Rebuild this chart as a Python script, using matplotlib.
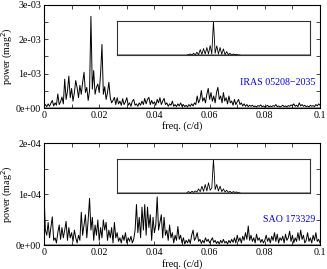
import numpy as np
import matplotlib.pyplot as plt
from matplotlib.ticker import MultipleLocator, FuncFormatter

plt.rcParams['font.family'] = ['Liberation Serif', 'DejaVu Serif']
plt.rcParams['font.size'] = 7.2

# frequency grid step (c/d)
FREQ_STEP = 0.0005

# IRAS 05208-2035 periodogram, power in 1e-3 mag^2
iras_power = [
    0.05, 0.10, 0.04, 0.12, 0.05, 0.14, 0.22, 0.06, 0.15, 0.08,
    0.41, 0.10, 0.18, 0.32, 0.12, 0.84, 0.25, 0.50, 0.93, 0.30,
    0.57, 0.20, 0.45, 0.80, 0.59, 0.30, 0.66, 0.40, 0.75, 1.04,
    0.45, 0.60, 0.22, 0.50, 2.67, 0.55, 1.09, 0.40, 0.60, 0.70,
    0.45, 1.00, 1.85, 0.40, 0.62, 0.25, 0.45, 0.75, 0.30, 0.15,
    0.22, 0.31, 0.10, 0.30, 0.12, 0.20, 0.08, 0.27, 0.10, 0.18,
    0.30, 0.08, 0.15, 0.05, 0.20, 0.25, 0.08, 0.12, 0.05, 0.15,
    0.08, 0.20, 0.10, 0.28, 0.12, 0.25, 0.31, 0.10, 0.22, 0.12,
    0.18, 0.08, 0.25, 0.15, 0.30, 0.10, 0.20, 0.28, 0.10, 0.15,
    0.05, 0.12, 0.08, 0.20, 0.05, 0.10, 0.04, 0.12, 0.06, 0.15,
    0.05, 0.10, 0.04, 0.08, 0.03, 0.10, 0.05, 0.12, 0.06, 0.15,
    0.10, 0.35, 0.15, 0.25, 0.51, 0.20, 0.30, 0.15, 0.40, 0.57,
    0.25, 0.45, 0.20, 0.35, 0.15, 0.45, 0.60, 0.25, 0.35, 0.15,
    0.45, 0.20, 0.30, 0.12, 0.35, 0.15, 0.20, 0.08, 0.25, 0.10,
    0.18, 0.25, 0.10, 0.15, 0.06, 0.12, 0.05, 0.10, 0.04, 0.08,
    0.05, 0.08, 0.04, 0.06, 0.03, 0.07, 0.05, 0.09, 0.04, 0.06,
    0.03, 0.05, 0.08, 0.03, 0.06, 0.04, 0.07, 0.05, 0.10, 0.04,
    0.06, 0.03, 0.05, 0.08, 0.04, 0.06, 0.03, 0.07, 0.05, 0.09,
    0.06, 0.12, 0.05, 0.08, 0.04, 0.15, 0.06, 0.10, 0.05, 0.08,
    0.04, 0.06, 0.03, 0.08, 0.05, 0.07, 0.04, 0.10, 0.06, 0.12,
    0.08,
]

# SAO 173329 periodogram, power in 1e-4 mag^2
sao_power = [
    1.00, 0.30, 0.20, 0.45, 0.15, 0.35, 0.56, 0.10, 0.15, 0.05,
    0.25, 0.40, 0.12, 0.35, 0.15, 0.30, 0.47, 0.10, 0.35, 0.15,
    0.25, 0.08, 0.30, 0.15, 0.05, 0.20, 0.10, 0.65, 0.20, 0.40,
    0.60, 0.15, 0.50, 0.92, 0.30, 0.55, 0.10, 0.40, 0.20, 0.50,
    0.10, 0.35, 0.15, 0.50, 0.30, 0.45, 0.10, 0.30, 0.15, 0.35,
    0.05, 0.45, 0.15, 0.25, 0.08, 0.15, 0.05, 0.20, 0.10, 0.25,
    0.05, 0.15, 0.08, 0.18, 0.05, 0.12, 0.30, 0.80, 0.25, 0.55,
    0.15, 0.75, 0.30, 0.80, 0.20, 0.75, 0.35, 0.60, 0.10, 0.55,
    0.25, 0.40, 0.95, 0.30, 0.45, 0.60, 0.15, 0.55, 0.20, 0.30,
    0.10, 0.40, 0.15, 0.25, 0.05, 0.20, 0.10, 0.37, 0.12, 0.20,
    0.05, 0.15, 0.03, 0.10, 0.05, 0.12, 0.04, 0.20, 0.30, 0.10,
    0.15, 0.25, 0.08, 0.12, 0.04, 0.10, 0.05, 0.15, 0.08, 0.12,
    0.05, 0.10, 0.15, 0.06, 0.10, 0.04, 0.08, 0.03, 0.10, 0.05,
    0.12, 0.05, 0.08, 0.03, 0.10, 0.05, 0.12, 0.06, 0.15, 0.05,
    0.20, 0.08, 0.15, 0.05, 0.18, 0.10, 0.25, 0.12, 0.38, 0.10,
    0.20, 0.08, 0.15, 0.05, 0.22, 0.10, 0.15, 0.06, 0.12, 0.05,
    0.10, 0.20, 0.08, 0.15, 0.05, 0.18, 0.10, 0.25, 0.08, 0.22,
    0.05, 0.15, 0.10, 0.18, 0.05, 0.22, 0.10, 0.15, 0.28, 0.08,
    0.20, 0.05, 0.15, 0.08, 0.25, 0.10, 0.30, 0.12, 0.20, 0.05,
    0.10, 0.25, 0.08, 0.15, 0.05, 0.20, 0.10, 0.25, 0.08, 0.12,
    0.05,
]

# spectral windows (relative height), offsets in units of 0.0006 c/d
WIN_STEP = 0.0006
win_offsets = list(range(-16, 17))
iras_window = [
    0.00, 0.01, 0.03, 0.00, 0.05, 0.01, 0.08, 0.01, 0.16, 0.02, 0.19,
    0.03, 0.22, 0.03, 0.28, 0.03, 1.00, 0.05, 0.27, 0.03, 0.22, 0.02,
    0.18, 0.01, 0.10, 0.01, 0.05, 0.00, 0.03, 0.01, 0.02, 0.00, 0.00,
]
sao_window = [
    0.02, 0.04, 0.01, 0.05, 0.02, 0.06, 0.03, 0.12, 0.04, 0.20, 0.05,
    0.25, 0.06, 0.30, 0.08, 0.15, 1.00, 0.10, 0.25, 0.06, 0.20, 0.04,
    0.12, 0.03, 0.08, 0.02, 0.05, 0.01, 0.04, 0.02, 0.03, 0.01, 0.00,
]

fig = plt.figure(figsize=(3.27, 2.69), dpi=100)


def panel(rect, power, scale, ymax, label, inset_rect, window):
    ax = fig.add_axes(rect)
    freq = np.arange(len(power)) * FREQ_STEP
    ax.axhline(0, color='#999999', lw=1.4, zorder=1)
    ax.plot(freq, np.array(power) * scale, color='black', lw=0.7, zorder=2)
    ax.set_xlim(0, 0.1)
    ax.set_ylim(0, ymax)
    ax.xaxis.set_major_locator(MultipleLocator(0.02))
    ax.xaxis.set_minor_locator(MultipleLocator(0.01))
    ax.yaxis.set_major_locator(MultipleLocator(scale))
    ax.yaxis.set_minor_locator(MultipleLocator(scale / 2))
    ax.xaxis.set_major_formatter(FuncFormatter(lambda v, p: '%g' % round(v, 3)))
    ax.yaxis.set_major_formatter(FuncFormatter(lambda v, p: '%.0e' % v))
    ax.tick_params(which='both', direction='in', top=True, right=True,
                   length=3, width=0.5, pad=2)
    for s in ax.spines.values():
        s.set_linewidth(0.8)
    ax.set_ylabel('power (mag$^2$)', labelpad=1)
    ax.set_xlabel('freq. (c/d)', labelpad=1)
    ax.text(0.982, 0.25, label, transform=ax.transAxes, ha='right',
            va='center', color='blue')

    ins = fig.add_axes(inset_rect)
    wx = np.array(win_offsets) * WIN_STEP
    ins.axhline(0, color='#999999', lw=1.4, zorder=1)
    ins.plot(wx, window, color='black', lw=0.6, zorder=2)
    ins.plot([-0.035, wx[0]], [0, 0], color='black', lw=0.5)
    ins.set_xlim(-0.035, 0.035)
    ins.set_ylim(0, 1)
    ins.set_xticks([])
    ins.set_yticks([])
    for s in ins.spines.values():
        s.set_linewidth(0.8)
        s.set_color('#333333')
    return ax


panel([0.1346, 0.5985, 0.844, 0.383], iras_power, 1e-3, 3e-3,
      'IRAS 05208\u22122035', [0.3578, 0.7955, 0.59, 0.1264], iras_window)
panel([0.1346, 0.0874, 0.844, 0.381], sao_power, 1e-4, 2e-4,
      'SAO 173329', [0.3578, 0.2825, 0.59, 0.1264], sao_window)

fig.savefig('out.png', dpi=100)
